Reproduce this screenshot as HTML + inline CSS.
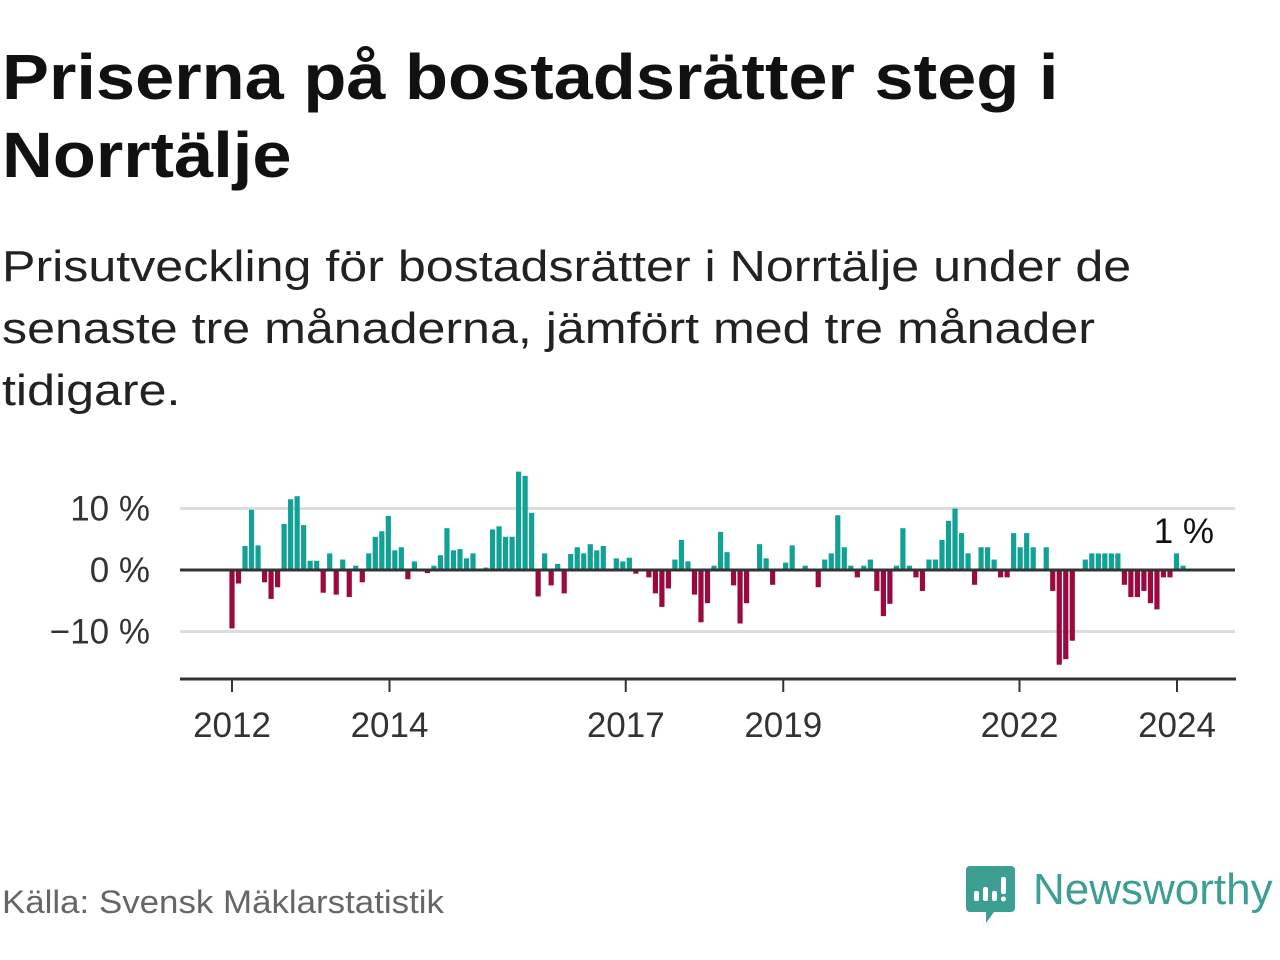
<!DOCTYPE html>
<html><head><meta charset="utf-8"><style>
body{margin:0;width:1280px;height:960px;background:#fff;overflow:hidden;font-family:"Liberation Sans",sans-serif;position:relative;color:#111}
.t{position:absolute;left:2px;top:38px;font-size:64px;font-weight:bold;line-height:78px;color:#111;white-space:nowrap;transform:scaleX(1.1);transform-origin:0 0}
.s{position:absolute;left:2px;top:236px;font-size:44px;line-height:62px;color:#222;white-space:nowrap;transform:scaleX(1.14);transform-origin:0 0}
.src{position:absolute;left:2px;top:884px;font-size:32px;color:#666;white-space:nowrap;transform:scaleX(1.09);transform-origin:0 0}
</style></head><body>
<div class="t">Priserna på bostadsrätter steg i<br>Norrtälje</div>
<div class="s">Prisutveckling för bostadsrätter i Norrtälje under de<br>senaste tre månaderna, jämfört med tre månader<br>tidigare.</div>
<div class="src">Källa: Svensk Mäklarstatistik</div>
<svg width="1280" height="960" style="position:absolute;left:0;top:0" id="chart">
<g id="grid"></g><g id="bars"></g><g id="axes"></g>
<g>
<path d="M970 866 h41 a4 4 0 0 1 4 4 v38 a4 4 0 0 1 -4 4 h-17 l-8 11 v-11 h-16 a4 4 0 0 1 -4 -4 v-38 a4 4 0 0 1 4 -4z" fill="#3d9e94"/>
<rect x="974" y="891" width="5" height="10" rx="2" fill="#fff"/><rect x="983" y="887" width="5" height="14" rx="2" fill="#fff"/><rect x="992" y="891" width="5" height="10" rx="2" fill="#fff"/><rect x="1001" y="877" width="5" height="17" rx="2" fill="#fff"/><circle cx="1003.5" cy="899" r="2.5" fill="#fff"/>
<text x="1033" y="904" font-size="44" fill="#3d9e94" font-family="Liberation Sans, sans-serif">Newsworthy</text>
</g>
</svg>
<script>
const values = [-9.5,-2.2,3.9,9.8,4,-2,-4.7,-2.8,7.5,11.5,12,7.3,1.5,1.5,-3.7,2.7,-4,1.7,-4.4,0.7,-2,2.7,5.4,6.3,8.8,3.2,3.7,-1.5,1.4,0,-0.5,0.7,2.4,6.8,3.2,3.4,1.9,2.7,0.2,0.4,6.6,7.1,5.4,5.4,16,15.3,9.3,-4.3,2.7,-2.5,1.0,
-3.8,2.6,3.7,2.7,4.2,3.2,3.9,0,1.9,1.4,2,-0.6,0,-1.2,-3.8,-6,-3,1.7,4.9,1.4,-4,-8.5,-5.4,0.7,6.2,2.9,-2.5,-8.7,-5.4,0,4.2,1.9,-2.4,0,1.2,4,0,0.7,0.2,-2.8,1.7,2.7,8.9,3.7,0.7,-1.2,0.7,1.7,
-3.4,-7.5,-5.5,0.7,6.8,0.7,-1.2,-3.4,1.7,1.7,4.9,8,10,6,2.7,-2.4,3.7,3.7,1.7,-1.2,-1.2,6,3.7,6,3.7,0,3.7,-3.4,-15.4,-14.5,-11.5,0,1.7,2.7,2.7,2.7,2.7,2.7,-2.4,-4.4,-4.4,-3.4,-5.4,-6.4,-1.2,-1.2,2.7,0.7];
const yTicks = [10,0,-10];
const yTickLabels = ["10 %","0 %","\u221210 %"];
const xTickYears = [2012,2014,2017,2019,2022,2024];
const lastLabel = "1 %";
const NS='http://www.w3.org/2000/svg';
const x0=232, step=(1183-232)/(values.length-1);
function xScale(i){return x0+i*step;}
function xYear(yr){return 232+(yr-2012)*78.75;}
function yScale(v){return 570-v*6.15;}
function mk(tag,attrs,parent){const e=document.createElementNS(NS,tag);for(const k in attrs)e.setAttribute(k,attrs[k]);parent.appendChild(e);return e;}
const grid=document.getElementById('grid'),bars=document.getElementById('bars'),axes=document.getElementById('axes');
yTicks.forEach((t,i)=>{
  if(t!==0){const l=mk('line',{x1:180,x2:1235,y1:yScale(t),y2:yScale(t),stroke:'#ddd','stroke-width':3},grid);
  
  }
  const tx=mk('text',{x:150,y:yScale(t)+12,'text-anchor':'end','font-size':35,fill:'#333'},axes);
  tx.textContent=yTickLabels[i];
  
  
});
values.forEach((v,i)=>{
  const y=v>=0?yScale(v):yScale(0), h=Math.abs(yScale(v)-yScale(0));
  const r=mk('rect',{x:xScale(i)-2.6,y:y,width:5.2,height:h,fill:v>=0?'#12a195':'#9a0a3e'},bars);
  
  
});
const zl=mk('line',{x1:180,x2:1235,y1:570,y2:570,stroke:'#333','stroke-width':3},axes);


const xl=mk('line',{x1:180,x2:1236,y1:679,y2:679,stroke:'#333','stroke-width':3},axes);


xTickYears.forEach(yr=>{
  const x=xYear(yr);
  const tk=mk('line',{x1:x,x2:x,y1:679,y2:692,stroke:'#333','stroke-width':2},axes);
  
  
  const tx=mk('text',{x:x,y:737,'text-anchor':'middle','font-size':35,fill:'#333'},axes);
  tx.textContent=yr;
  
  
});
const ll=mk('text',{x:1214,y:543,'text-anchor':'end','font-size':35,fill:'#111'},axes);
ll.textContent=lastLabel;


</script>
</body></html>
